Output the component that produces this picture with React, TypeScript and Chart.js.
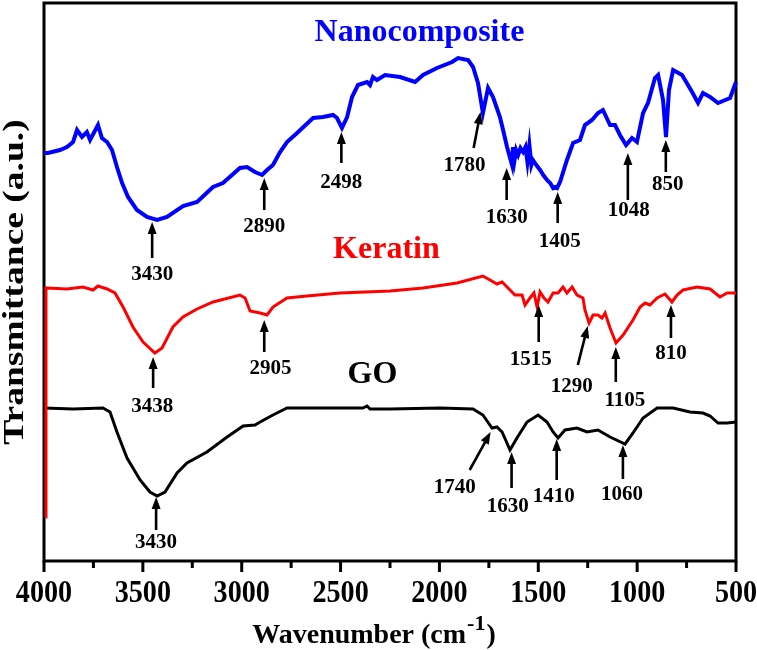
import React, { useEffect, useRef } from 'react';
import { Chart, registerables } from 'chart.js';
Chart.register(...registerables);

// ---- Data (wavenumber in cm-1, transmittance in arbitrary units) ----
const nanoWavenumber = [4000, 3980, 3919, 3884, 3853, 3833, 3808, 3783, 3767, 3727, 3707, 3681, 3656, 3631, 3605, 3575, 3530, 3479, 3428, 3378, 3297, 3226, 3145, 3095, 3009, 2973, 2933, 2897, 2872, 2842, 2806, 2771, 2720, 2639, 2589, 2538, 2518, 2493, 2467, 2442, 2412, 2366, 2351, 2336, 2316, 2275, 2199, 2123, 2083, 2012, 1936, 1906, 1855, 1830, 1805, 1780, 1754, 1729, 1694, 1678, 1658, 1640, 1633, 1628, 1620, 1612, 1602, 1590, 1577, 1565, 1555, 1545, 1535, 1527, 1510, 1491, 1475, 1456, 1440, 1425, 1415, 1405, 1390, 1355, 1324, 1289, 1264, 1228, 1198, 1173, 1137, 1112, 1087, 1056, 1026, 1001, 970, 945, 910, 894, 869, 854, 839, 818, 773, 722, 692, 667, 631, 591, 530, 500];
const nanoT = [408, 408, 411, 414, 419, 431, 424, 429, 421, 436, 423, 419, 411, 394, 378, 364, 351, 344, 341, 344, 355, 359, 374, 378, 393, 394, 389, 386, 391, 396, 409, 419, 428, 443, 444, 446, 443, 433, 444, 464, 476, 479, 476, 484, 481, 486, 484, 479, 486, 493, 499, 503, 501, 494, 478, 448, 473, 464, 444, 431, 414, 401, 396, 414, 401, 411, 406, 413, 409, 414, 399, 416, 396, 401, 396, 391, 386, 381, 378, 373, 374, 373, 379, 401, 418, 421, 436, 441, 448, 451, 436, 436, 426, 416, 423, 419, 448, 458, 483, 486, 461, 424, 471, 491, 486, 469, 458, 468, 464, 458, 463, 479];

const keratinWavenumber = [3992, 3990, 3985, 3884, 3803, 3752, 3727, 3681, 3641, 3600, 3550, 3499, 3439, 3403, 3348, 3297, 3226, 3145, 3009, 2983, 2958, 2907, 2872, 2842, 2771, 2670, 2503, 2250, 2083, 1911, 1780, 1744, 1709, 1683, 1653, 1618, 1582, 1567, 1542, 1522, 1506, 1491, 1471, 1451, 1425, 1400, 1375, 1355, 1329, 1304, 1274, 1264, 1243, 1223, 1198, 1178, 1162, 1137, 1107, 1071, 1021, 985, 960, 935, 899, 859, 824, 798, 768, 697, 631, 581, 545, 500];
const keratinT = [44, 273, 273, 272, 274, 271, 275, 272, 268, 254, 234, 219, 208, 213, 234, 244, 252, 259, 266, 263, 250, 248, 246, 254, 263, 265, 268, 270, 273, 278, 285, 281, 277, 279, 273, 266, 266, 256, 263, 268, 254, 269, 263, 259, 268, 268, 274, 268, 274, 266, 263, 251, 238, 246, 246, 243, 248, 233, 218, 226, 241, 254, 258, 256, 263, 267, 259, 266, 271, 274, 272, 264, 268, 268];

const goWavenumber = [4000, 3853, 3702, 3666, 3631, 3580, 3514, 3464, 3428, 3388, 3327, 3277, 3176, 3074, 2993, 2933, 2907, 2842, 2771, 2670, 2387, 2366, 2351, 2250, 1997, 1830, 1780, 1734, 1709, 1683, 1643, 1608, 1557, 1501, 1456, 1425, 1400, 1365, 1304, 1254, 1198, 1137, 1061, 1021, 970, 899, 818, 733, 667, 631, 591, 545, 500];
const goT = [153, 152, 153, 149, 129, 103, 81, 69, 65, 69, 88, 98, 109, 124, 135, 136, 139, 146, 153, 153, 153, 155, 152, 152, 153, 152, 146, 133, 134, 129, 111, 123, 139, 146, 139, 129, 123, 131, 133, 129, 131, 124, 117, 128, 143, 153, 153, 149, 148, 145, 138, 138, 139];

const xMajorTicks = [4000, 3500, 3000, 2500, 2000, 1500, 1000, 500];
const xTickLabels = ['4000', '3500', '3000', '2500', '2000', '1500', '1000', '500'];
const xMinorTicks = [3750, 3250, 2750, 2250, 1750, 1250, 750];

// Peak annotations: [wavenumber, transmittance]
const nanoPeakLabels = ['3430', '2890', '2498', '1780', '1630', '1405', '1048', '850'];
const nanoPeakTip = [[3453, 339], [2886, 383], [2496, 429], [1792, 449], [1660, 393], [1402, 369], [1047, 408], [855, 421]];
const nanoPeakTail = [[3453, 303], [2886, 351], [2496, 398], [1827, 413], [1660, 361], [1402, 338], [1047, 361], [855, 389]];
const nanoPeakText = [[3453, 286], [2886, 334], [2496, 378], [1873, 395], [1660, 343], [1392, 319], [1042, 350], [845, 376]];

const keratinPeakLabels = ['3438', '2905', '1515', '1290', '1105', '810'];
const keratinPeakTip = [[3448, 204], [2886, 241], [1498, 256], [1250, 235], [1108, 214], [829, 256]];
const keratinPeakTail = [[3448, 173], [2886, 209], [1498, 219], [1300, 196], [1108, 179], [829, 223]];
const keratinPeakText = [[3453, 154], [2855, 192], [1538, 201], [1331, 174], [1062, 160], [829, 207]];

const goPeakLabels = ['3430', '1740', '1630', '1410', '1060'];
const goPeakTip = [[3433, 64], [1741, 129], [1635, 109], [1407, 122], [1072, 116]];
const goPeakTail = [[3433, 31], [1847, 91], [1635, 73], [1407, 81], [1072, 82]];
const goPeakText = [[3433, 18], [1923, 73], [1655, 54], [1422, 64], [1077, 66]];

const seriesNames = ['Nanocomposite', 'Keratin', 'GO'];
const seriesColors = ['#0000ff', '#ff0000', '#000000'];
const seriesNamePos = [[2101, 528], [2268, 311], [2339, 186]];

const SERIF = "'Liberation Serif', 'Times New Roman', serif";

function drawArrow(ctx: CanvasRenderingContext2D, x1: number, y1: number, x2: number, y2: number) {
  const ang = Math.atan2(y2 - y1, x2 - x1);
  const headLen = 12;
  const headW = 4.5;
  const c = Math.cos(ang), s = Math.sin(ang);
  const bx = x2 - headLen * c, by = y2 - headLen * s;
  ctx.beginPath();
  ctx.moveTo(x1, y1);
  ctx.lineTo(bx + 2 * c, by + 2 * s);
  ctx.lineWidth = 2.6;
  ctx.strokeStyle = '#000';
  ctx.stroke();
  ctx.beginPath();
  ctx.moveTo(x2, y2);
  ctx.lineTo(bx - headW * s, by + headW * c);
  ctx.lineTo(bx + headW * s, by - headW * c);
  ctx.closePath();
  ctx.fillStyle = '#000';
  ctx.fill();
}

const framePlugin = {
  id: 'frame',
  beforeDatasetsDraw(chart: any) {
    const { ctx, chartArea: a } = chart;
    const xs = chart.scales.x;
    ctx.save();
    ctx.strokeStyle = '#000';
    ctx.lineWidth = 3;
    ctx.strokeRect(a.left, a.top, a.right - a.left, a.bottom - a.top);
    xMajorTicks.forEach((v) => {
      const px = xs.getPixelForValue(v);
      ctx.beginPath();
      ctx.moveTo(px, a.bottom);
      ctx.lineTo(px, a.bottom + 11);
      ctx.stroke();
    });
    xMinorTicks.forEach((v) => {
      const px = xs.getPixelForValue(v);
      ctx.beginPath();
      ctx.moveTo(px, a.bottom);
      ctx.lineTo(px, a.bottom + 7);
      ctx.stroke();
    });
    ctx.fillStyle = '#000';
    ctx.font = `bold 32px ${SERIF}`;
    ctx.textAlign = 'center';
    ctx.textBaseline = 'alphabetic';
    xMajorTicks.forEach((v, i) => {
      const px = xs.getPixelForValue(v);
      ctx.save();
      ctx.translate(px, a.bottom + 41);
      ctx.scale(0.88, 1);
      ctx.fillText(xTickLabels[i], 0, 0);
      ctx.restore();
    });
    ctx.restore();
  },
};

const annotationPlugin = {
  id: 'annotations',
  afterDraw(chart: any) {
    const { ctx } = chart;
    const xs = chart.scales.x, ys = chart.scales.y;
    const P = (p: number[]) => [xs.getPixelForValue(p[0]), ys.getPixelForValue(p[1])];
    ctx.save();
    const groups = [
      [nanoPeakLabels, nanoPeakTip, nanoPeakTail, nanoPeakText],
      [keratinPeakLabels, keratinPeakTip, keratinPeakTail, keratinPeakText],
      [goPeakLabels, goPeakTip, goPeakTail, goPeakText],
    ] as any[];
    groups.forEach(([labels, tips, tails, texts]) => {
      labels.forEach((lab: string, i: number) => {
        const [tx, ty] = P(tips[i]);
        const [sx, sy] = P(tails[i]);
        drawArrow(ctx, sx, sy, tx, ty);
        const [lx, ly] = P(texts[i]);
        ctx.font = `bold 21px ${SERIF}`;
        ctx.fillStyle = '#000';
        ctx.textAlign = 'center';
        ctx.textBaseline = 'middle';
        ctx.fillText(lab, lx, ly);
      });
    });
    seriesNames.forEach((name, i) => {
      const [nx, ny] = P(seriesNamePos[i]);
      ctx.font = `bold 32px ${SERIF}`;
      ctx.fillStyle = seriesColors[i];
      ctx.textAlign = 'center';
      ctx.textBaseline = 'middle';
      ctx.fillText(name, nx, ny);
    });
    ctx.fillStyle = '#000';
    ctx.textBaseline = 'alphabetic';
    ctx.textAlign = 'left';
    const mainFont = `bold 28px ${SERIF}`;
    const supFont = `bold 22px ${SERIF}`;
    const t1 = 'Wavenumber (cm';
    const t2 = '-1';
    const t3 = ')';
    ctx.font = mainFont;
    const w1 = ctx.measureText(t1).width;
    const w3 = ctx.measureText(t3).width;
    ctx.font = supFont;
    const w2 = ctx.measureText(t2).width;
    const total = w1 + w2 + w3 + 2;
    const cx = 374;
    const base = 643;
    const x0 = cx - total / 2;
    ctx.font = mainFont;
    ctx.fillText(t1, x0, base);
    ctx.font = supFont;
    ctx.fillText(t2, x0 + w1 + 1, base - 13);
    ctx.font = mainFont;
    ctx.fillText(t3, x0 + w1 + w2 + 2, base);
    ctx.save();
    ctx.translate(23, 282);
    ctx.rotate(-Math.PI / 2);
    ctx.scale(1.25, 1);
    ctx.font = `bold 30px ${SERIF}`;
    ctx.textAlign = 'center';
    ctx.textBaseline = 'alphabetic';
    ctx.fillText('Transmittance (a.u.)', 0, 0);
    ctx.restore();
    ctx.restore();
  },
};

export default function App() {
  const canvasRef = useRef<HTMLCanvasElement | null>(null);
  useEffect(() => {
    document.body.style.margin = '0';
    const canvas = canvasRef.current;
    if (!canvas) return;
    const mk = (ws: number[], ts: number[]) => ws.map((w, i) => ({ x: w, y: ts[i] }));
    const chart = new Chart(canvas, {
      type: 'line',
      data: {
        datasets: [
          { label: seriesNames[0], data: mk(nanoWavenumber, nanoT), borderColor: seriesColors[0], borderWidth: 4, pointRadius: 0, tension: 0, fill: false, clip: 6 } as any,
          { label: seriesNames[1], data: mk(keratinWavenumber, keratinT), borderColor: seriesColors[1], borderWidth: 3, pointRadius: 0, tension: 0, fill: false, clip: 6 } as any,
          { label: seriesNames[2], data: mk(goWavenumber, goT), borderColor: seriesColors[2], borderWidth: 3, pointRadius: 0, tension: 0, fill: false, clip: 6 } as any,
        ],
      },
      options: {
        animation: false,
        responsive: true,
        maintainAspectRatio: false,
        layout: { padding: { top: 3, right: 21, left: 0, bottom: 0 } },
        plugins: { legend: { display: false }, tooltip: { enabled: false } },
        scales: {
          x: {
            type: 'linear',
            reverse: true,
            min: 500,
            max: 4000,
            afterBuildTicks: (s: any) => {
              s.ticks = xMajorTicks.map((v) => ({ value: v }));
            },
            afterFit: (s: any) => {
              s.height = 89;
            },
            ticks: { display: false },
            grid: { display: false },
            border: { display: false },
          },
          y: {
            min: 0,
            max: 558,
            ticks: { display: false },
            grid: { display: false },
            border: { display: false },
            afterFit: (s: any) => {
              s.width = 44;
            },
          },
        },
      } as any,
      plugins: [framePlugin, annotationPlugin],
    });
    return () => chart.destroy();
  }, []);
  return (
    <div style={{ width: 757, height: 650, position: 'relative' }}>
      <canvas ref={canvasRef} />
    </div>
  );
}
